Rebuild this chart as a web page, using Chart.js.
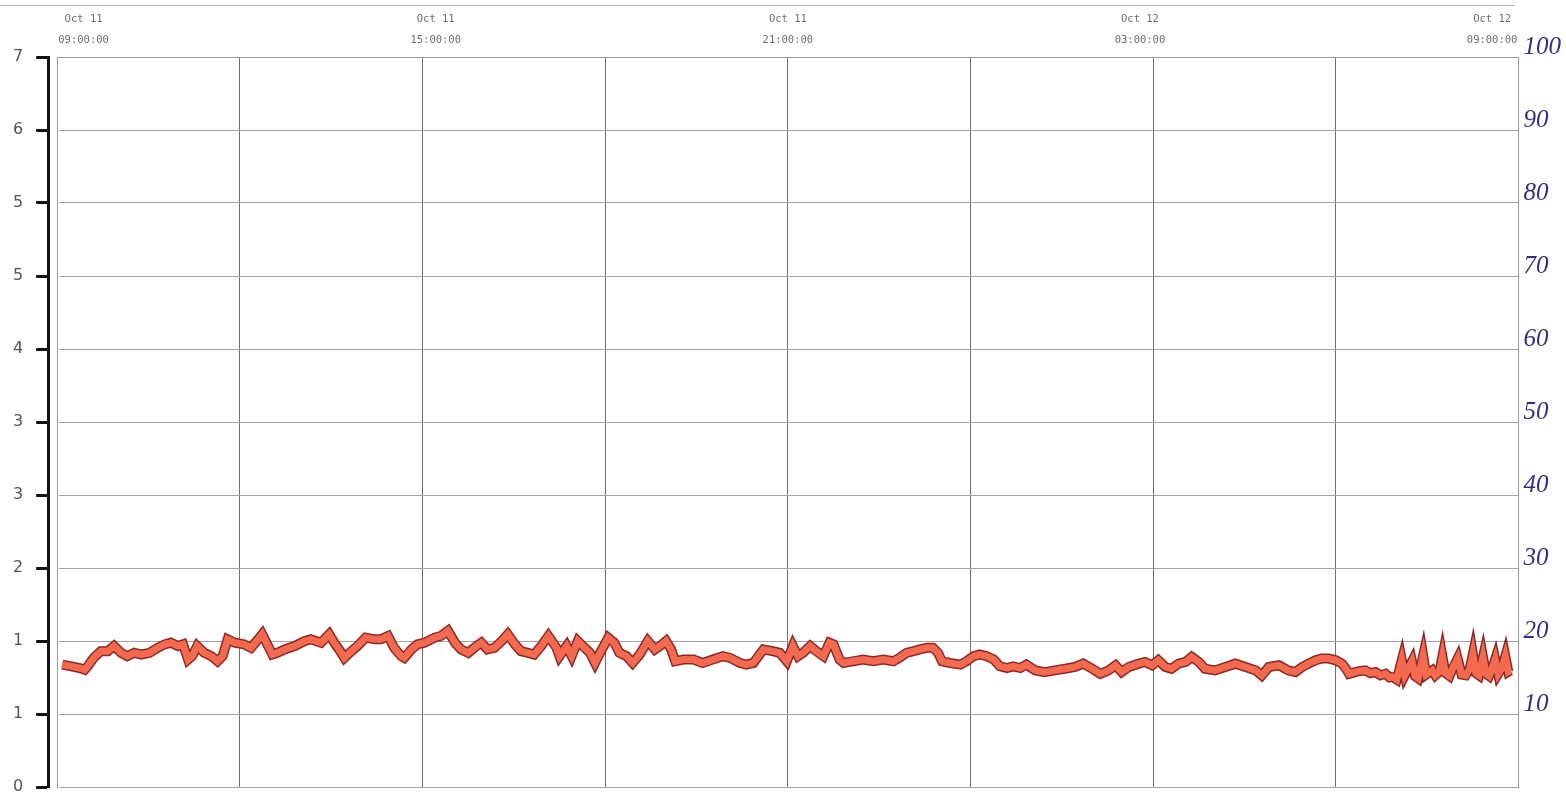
<!DOCTYPE html>
<html><head><meta charset="utf-8">
<script src="https://cdn.jsdelivr.net/npm/chart.js@4.4.0/dist/chart.umd.min.js"></script>
<style>
html,body{margin:0;padding:0;background:#fff;}
#wrap{position:relative;width:1566px;height:792px;overflow:hidden;}
#topline{position:absolute;left:0;top:5px;width:1515px;border-top:1px solid #b8b8b8;}
canvas{position:absolute;left:0;top:0;}
</style></head><body>
<div id="wrap"><div id="topline"></div><canvas id="c" width="1566" height="792"></canvas></div>
<script>
// minutes after Oct 11 09:00:00
const minutes = [5,14,22,27,30,36,43,50,56,63,69,76,83,91,99,106,112,119,124,129,133,138,145,152,158,163,168,175,184,191,198,202,207,212,217,224,234,244,250,260,268,273,280,283,290,296,304,313,319,326,332,339,342,349,355,362,372,378,385,392,398,405,411,418,424,431,438,444,451,457,464,470,477,
484,492,495,502,507,513,518,525,530,535,543,549,554,561,567,574,582,589,594,600,605,609,617,627,636,646,656,663,673,679,686,691,696,705,712,719,725,730,735,742,748,755,761,765,771,775,784,794,804,814,824,830,837,844,850,857,863,868,872,880,890,896,903,909,916,923,929,936,942,949,955,
964,973,983,993,1003,1011,1020,1028,1036,1043,1049,1056,1066,1072,1079,1085,1092,1098,1105,1112,1118,1125,1131,1141,1151,1161,1171,1181,1187,1194,1204,1213,1220,1227,1233,1240,1246,1253,1260,1266,
1270,1273,1279,1284,1289,1294,1299,1304,1309,1313,1316,1320,1325,1328,1335,1338,1341,1346,1349,1355,1358,1362,1365,1368,1372,1375,1380,1384,1388,1392,1395,1398,1401,1405,1408,1411,1414,1417,1420,1424,1427,1430,1432];
// load, read against the right-hand 0-100 scale
const load = [16.76,16.53,16.30,16.06,16.53,17.69,18.61,18.61,19.31,18.38,17.92,18.38,18.15,18.38,19.07,19.54,19.77,19.31,19.54,17.45,17.92,19.31,18.38,17.92,17.22,17.92,20.23,19.77,19.54,19.07,20.23,20.93,19.54,18.15,18.38,18.84,19.31,20.0,20.23,19.77,20.93,19.77,18.38,17.69,18.61,19.31,20.46,20.23,20.23,20.69,19.07,17.92,17.69,18.84,19.54,19.77,20.46,20.69,21.39,19.77,18.84,18.38,19.07,19.77,18.84,19.07,20.0,20.93,19.54,18.61,18.38,18.15,19.31,
20.69,19.07,17.92,19.31,17.92,20.0,19.31,18.38,16.99,18.38,20.46,19.77,18.38,17.92,16.99,18.15,20.0,18.84,19.31,20.0,18.84,17.22,17.45,17.45,16.99,17.45,17.92,17.69,16.99,16.76,16.99,17.92,18.84,18.61,18.38,17.22,19.31,17.92,18.38,19.31,18.61,17.92,19.77,19.54,17.45,16.99,17.22,17.45,17.22,17.45,17.22,17.69,18.38,18.61,18.84,19.07,19.07,18.38,17.22,16.99,16.76,17.22,17.92,18.15,17.92,17.45,16.53,16.30,16.53,16.30,16.76,
15.97,15.74,15.97,16.20,16.44,16.90,16.20,15.51,15.97,16.67,15.74,16.44,16.90,17.13,16.67,17.36,16.44,16.20,16.90,17.13,17.82,17.13,16.20,15.97,16.44,16.90,16.44,15.97,15.28,16.44,16.67,15.97,15.74,16.44,16.90,17.36,17.59,17.59,17.36,16.90,
16.2,15.5,15.74,15.9,15.97,15.6,15.74,15.3,15.51,15.0,15.05,14.7,17.4,15.3,17.2,15.2,14.9,18.0,15.4,15.97,15.3,15.8,17.9,15.6,15.2,16.2,17.6,15.4,15.3,16.2,18.2,15.6,15.3,17.8,15.5,15.2,16.2,17.5,15.5,16.4,17.9,15.8,15.97];

const leftTickLabels = ['0','1','1','2','3','3','4','5','5','6','7'];
const rightTickLabels = ['','10','20','30','40','50','60','70','80','90','100'];
const topDateLabels = ['Oct 11','Oct 11','Oct 11','Oct 12','Oct 12'];
const topTimeLabels = ['09:00:00','15:00:00','21:00:00','03:00:00','09:00:00'];

const points = minutes.map((m, i) => ({x: m, y: load[i]}));
const noVertPad = s => { s.paddingTop = 0; s.paddingBottom = 0; };

new Chart(document.getElementById('c').getContext('2d'), {
  type: 'line',
  data: {
    datasets: [
      {data: points, borderColor: '#f46a4e', borderWidth: 7, pointRadius: 0, tension: 0, order: 0, xAxisID: 'x', yAxisID: 'y'},
      {data: points, borderColor: '#8c2a2a', borderWidth: 10, pointRadius: 0, tension: 0, order: 1, xAxisID: 'x', yAxisID: 'y'}
    ]
  },
  options: {
    responsive: false,
    animation: false,
    layout: {padding: {left: 0, right: 0, top: 3, bottom: 5}},
    plugins: {legend: {display: false}, tooltip: {enabled: false}},
    scales: {
      x: {
        type: 'linear', position: 'top', min: 0, max: 1440, weight: 0,
        ticks: {display: false, stepSize: 180},
        grid: {color: c => (c.tick && (c.tick.value === 0 || c.tick.value === 1440)) ? '#a8a8a8' : '#6f6f6f', lineWidth: 1, drawTicks: false},
        border: {display: true, color: '#9a9a9a', width: 1}
      },
      xLabels: {
        type: 'linear', position: 'top', min: -0.075, max: 4.075, weight: 1,
        afterBuildTicks: s => { s.ticks = topTimeLabels.map((_, i) => ({value: i})); },
        ticks: {autoSkip: false, maxRotation: 0, padding: 6, color: '#6e6e6e',
          font: {family: 'DejaVu Sans Mono', size: 10.5, lineHeight: 2},
          callback: (v, i) => [topDateLabels[i], topTimeLabels[i]]},
        grid: {display: false, drawTicks: false},
        border: {display: false}
      },
      y: {
        position: 'left', min: 0, max: 100, weight: 1,
        afterFit: noVertPad,
        ticks: {stepSize: 10, padding: 13, color: '#555', font: {family: 'DejaVu Sans', size: 16},
          callback: (v, i) => leftTickLabels[i]},
        grid: {color: '#a3a3a3', lineWidth: 1, tickColor: '#111', tickWidth: 3, tickLength: 12},
        border: {display: true, color: '#111', width: 3}
      },
      yFrame: {
        position: 'left', min: 0, max: 100, weight: 0,
        afterFit: s => { s.width = 9; s.paddingTop = 0; s.paddingBottom = 0; },
        ticks: {display: false},
        grid: {display: false, drawTicks: false},
        border: {display: true, color: '#9a9a9a', width: 1}
      },
      yR: {
        position: 'right', min: 0, max: 100,
        afterFit: noVertPad,
        ticks: {stepSize: 10, padding: 5, labelOffset: -10, color: '#3d2b80',
          font: {family: 'Liberation Serif', style: 'italic', size: 25},
          callback: (v, i) => rightTickLabels[i]},
        grid: {display: false, drawTicks: false},
        border: {display: true, color: '#9a9a9a', width: 1}
      }
    }
  }
});
</script>
</body></html>
